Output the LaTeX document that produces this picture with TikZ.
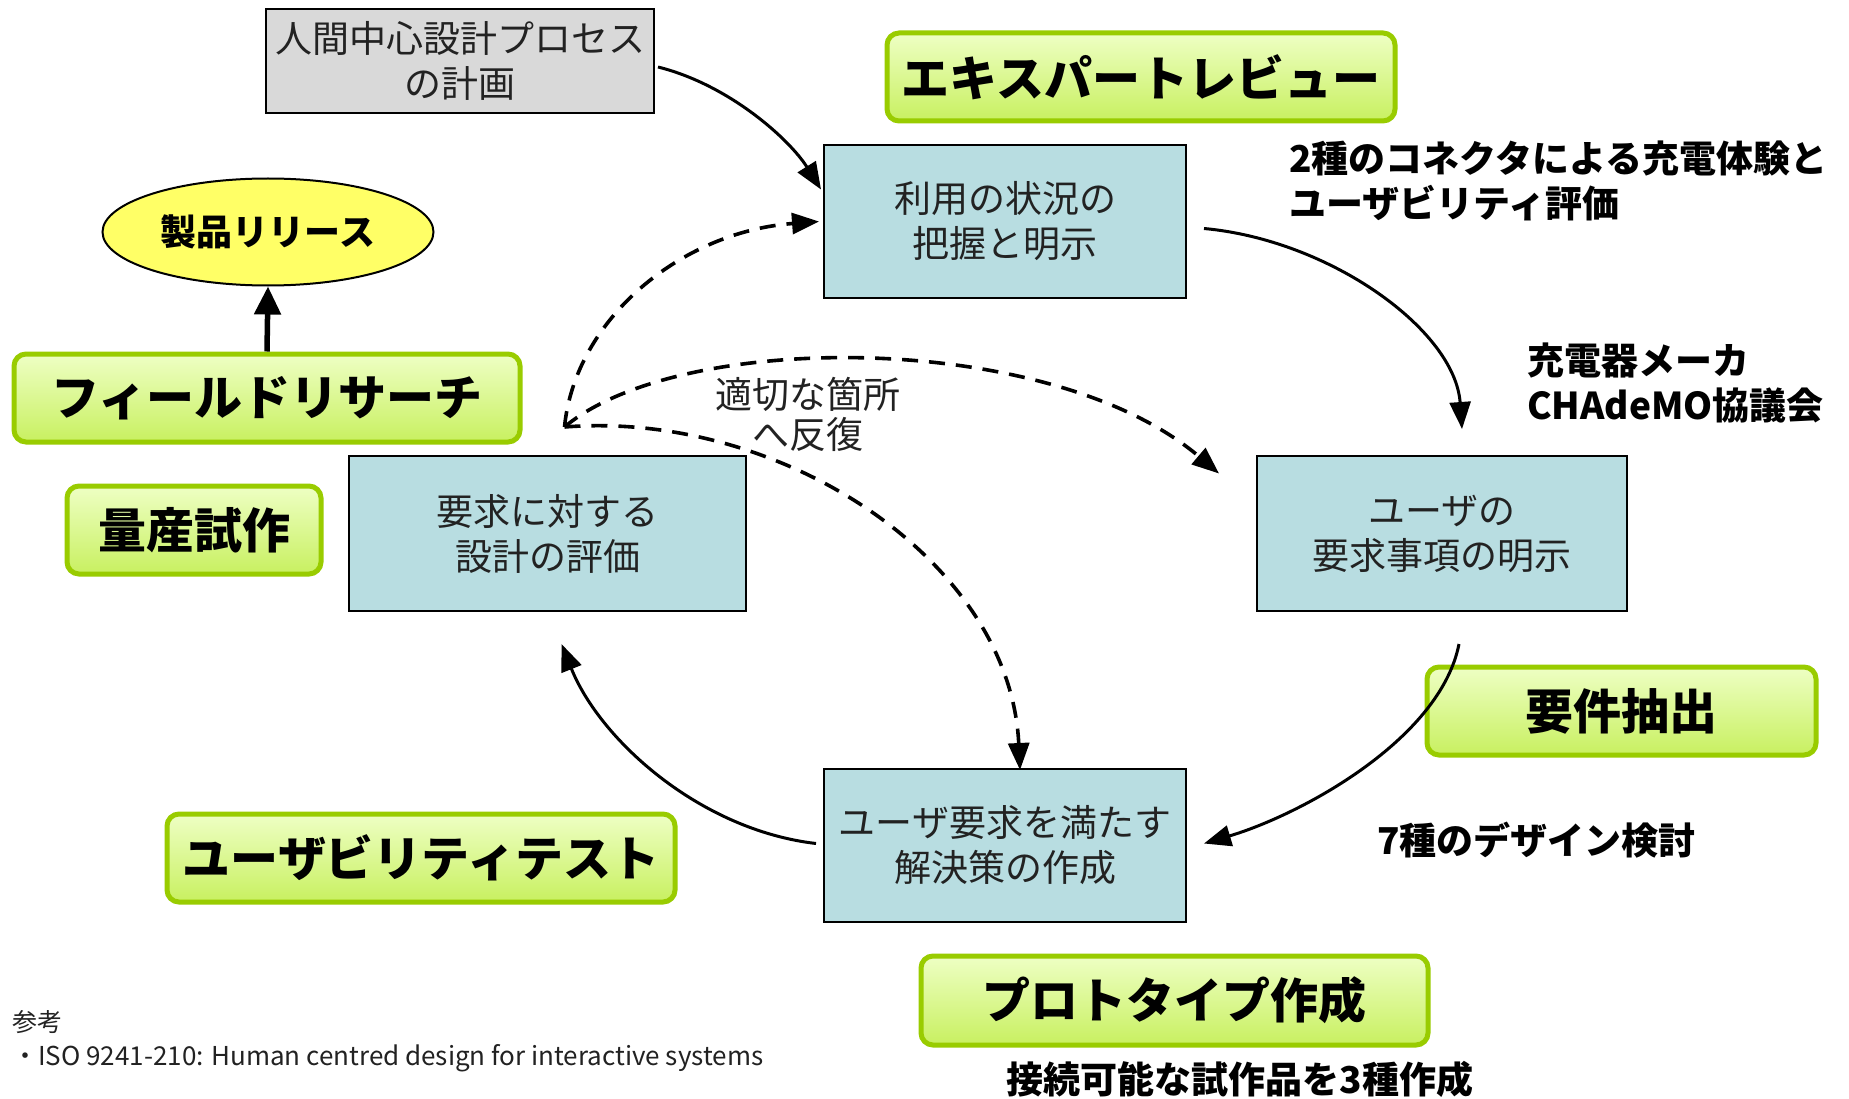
\documentclass[tikz,border=0pt]{standalone}
\usepackage{fontspec}
\setmainfont{Noto Sans CJK JP}
\usetikzlibrary{arrows.meta,shapes.geometric,calc}
\definecolor{gborder}{HTML}{99CC00}
\definecolor{gtop}{HTML}{EEFFC4}
\definecolor{gbot}{HTML}{C8F060}
\definecolor{bfill}{HTML}{B8DDE1}
\definecolor{grayfill}{HTML}{D9D9D9}
\definecolor{yfill}{HTML}{FFFF66}
\definecolor{txt}{HTML}{222222}
\begin{document}
\begin{tikzpicture}[x=1pt,y=-1pt,
  greenbox/.style={draw=gborder, line width=5pt, rounded corners=12pt, top color=gtop, bottom color=gbot,
    font=\fontsize{48}{56}\selectfont\bfseries, inner sep=0pt},
  bluebox/.style={draw=black, line width=2pt, fill=bfill, text=txt, font=\fontsize{37}{45}\selectfont, align=center, inner sep=0pt},
  annot/.style={font=\fontsize{37}{45}\selectfont\bfseries, align=left, inner sep=0pt},
  arr/.style={line width=3pt, -{Triangle[length=27pt,width=21pt]}},
  darr/.style={line width=3.6pt, dash pattern=on 16pt off 11pt, -{Triangle[length=27pt,width=21pt]}}]
\useasboundingbox (0,0) rectangle (1849,1099);
\fill[white] (0,0) rectangle (1849,1099);

% nodes
\node[draw=black, line width=2pt, fill=grayfill, text=txt, font=\fontsize{37}{45}\selectfont, align=center, inner sep=0pt,
  minimum width=388pt, minimum height=104pt] (plan) at (460,61) {人間中心設計プロセス\\の計画};
\node[greenbox, minimum width=508pt, minimum height=88pt] (expert) at (1141,77) {エキスパートレビュー};
\node[bluebox, minimum width=362pt, minimum height=153pt] (ctx) at (1005,221.5) {利用の状況の\\把握と明示};
\node[ellipse, draw=black, line width=2pt, fill=yfill, inner sep=0pt, minimum width=331pt, minimum height=107pt,
  font=\fontsize{36}{42}\selectfont\bfseries] (release) at (268,232) {製品リリース};
\node[greenbox, minimum width=506pt, minimum height=88pt] (field) at (267,398) {フィールドリサーチ};
\node[bluebox, minimum width=397pt, minimum height=155pt] (eval) at (547.5,533.5) {要求に対する\\設計の評価};
\node[bluebox, minimum width=370pt, minimum height=155pt] (req) at (1442,533.5) {ユーザの\\要求事項の明示};
\node[greenbox, minimum width=254pt, minimum height=88pt] (mass) at (194,530) {量産試作};
\node[greenbox, minimum width=389pt, minimum height=88pt] (extract) at (1621.5,711) {要件抽出};
\node[bluebox, minimum width=362pt, minimum height=153pt] (sol) at (1005,845.5) {ユーザ要求を満たす\\解決策の作成};
\node[greenbox, minimum width=508pt, minimum height=88pt] (ut) at (421,858) {ユーザビリティテスト};
\node[greenbox, minimum width=507pt, minimum height=89pt] (proto) at (1174.5,1000.5) {プロトタイプ作成};

% annotations
\node[annot, anchor=west] (n1) at (1289,181) {2種のコネクタによる充電体験と\\ユーザビリティ評価};
\node[annot, anchor=west] (n2) at (1527,383) {充電器メーカ\\CHAdeMO協議会};
\node[annot, anchor=west] (n3) at (1377,840) {7種のデザイン検討};
\node[annot, anchor=center] (n4) at (1240,1079) {接続可能な試作品を3種作成};
\node[text=txt, font=\fontsize{37}{40}\selectfont, align=center, inner sep=0pt] (iter) at (808,414) {適切な箇所\\へ反復};
\node[text=txt, font=\fontsize{25}{28}\selectfont, anchor=west, inner sep=0pt] (ref) at (12,1022) {参考};
\node[text=txt, font=\fontsize{26}{30}\selectfont, anchor=west, inner sep=0pt] (iso) at (12,1058) {・ISO 9241-210: Human centred design for interactive systems};

% solid cycle arrows
\coordinate (a1s) at ($(plan.east)+(3,6)$);
\coordinate (a1e) at ($(ctx.west)+(-2,-32)$);
\draw[arr] (a1s) .. controls (730,85) and (790,140) .. (a1e);
\coordinate (a2s) at ($(ctx.east)+(17,7)$);
\coordinate (a2e) at ($(req.north)+(20,-26)$);
\draw[arr] (a2s) .. controls (1330,240) and (1455,330) .. (a2e);
\coordinate (a3s) at ($(req.south)+(17,32)$);
\coordinate (a3e) at ($(sol.east)+(17,-2)$);
\draw[arr] (a3s) .. controls (1440,740) and (1300,815) .. (a3e);
\coordinate (a4s) at ($(sol.west)+(-7,-2)$);
\coordinate (a4e) at ($(eval.south)+(14,32)$);
\draw[arr] (a4s) .. controls (700,830) and (600,740) .. (a4e);

% field research -> release
\draw[line width=5.5pt, -{Triangle[length=28pt,width=26pt]}] (field.north) -- (release.south);

% dashed iteration arrows
\coordinate (it) at ($(eval.north)+(17,-28)$);
\coordinate (d1e) at ($(ctx.west)+(-4,0)$);
\draw[darr] (it) .. controls (575,320) and (680,232) .. (d1e);
\coordinate (d2e) at ($(req.west)+(-37,-60)$);
\draw[darr] (it) .. controls (680,330) and (1050,330) .. (d2e);
\coordinate (d3e) at ($(sol.north)+(15,2)$);
\draw[darr] (it) .. controls (780,410) and (1010,560) .. (d3e);
\end{tikzpicture}
\end{document}
